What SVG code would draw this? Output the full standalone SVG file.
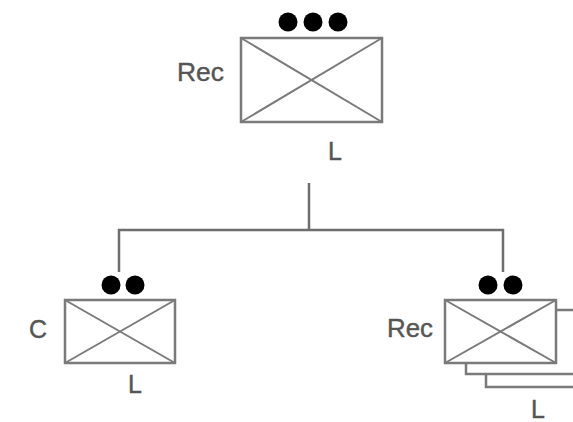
<svg xmlns="http://www.w3.org/2000/svg" width="573" height="422" viewBox="0 0 573 422">
<style>
.box{fill:#fff;stroke:#7a7a7a;stroke-width:2.5}
.x{stroke:#7a7a7a;stroke-width:2}
.dot{fill:#000}
.lbl{font-family:"Liberation Sans",Arial,sans-serif;font-size:25px;fill:#555;stroke:#555;stroke-width:0.4}
.wire{fill:none;stroke:#6e6e6e;stroke-width:2.5}
</style>
<rect width="573" height="422" fill="#fff"/>
<g id="connectors">
<line class="wire" x1="309" y1="183" x2="309" y2="230"/>
<polyline class="wire" points="119,272 119,230 503,230 503,272"/>
</g>
<g id="top">
<circle class="dot" cx="288" cy="22" r="9.5"/>
<circle class="dot" cx="313" cy="22" r="9.5"/>
<circle class="dot" cx="338" cy="22" r="9.5"/>
<rect class="box" x="241" y="38" width="141" height="84"/>
<line class="x" x1="241" y1="38" x2="382" y2="122"/>
<line class="x" x1="382" y1="38" x2="241" y2="122"/>
<text class="lbl" x="177" y="81" textLength="47" lengthAdjust="spacingAndGlyphs">Rec</text>
<text class="lbl" x="328" y="160">L</text>
</g>
<g id="left">
<circle class="dot" cx="111" cy="285" r="9.5"/>
<circle class="dot" cx="135" cy="285" r="9.5"/>
<rect class="box" x="65" y="300" width="110" height="63"/>
<line class="x" x1="65" y1="300" x2="175" y2="363"/>
<line class="x" x1="175" y1="300" x2="65" y2="363"/>
<text class="lbl" x="29" y="338">C</text>
<text class="lbl" x="128" y="393">L</text>
</g>
<g id="right">
<rect class="box" x="486" y="323" width="120" height="64"/>
<rect class="box" x="466" y="310" width="120" height="64"/>
<circle class="dot" cx="488" cy="285" r="9.5"/>
<circle class="dot" cx="513" cy="285" r="9.5"/>
<rect class="box" x="445" y="300" width="111" height="63"/>
<line class="x" x1="445" y1="300" x2="556" y2="363"/>
<line class="x" x1="556" y1="300" x2="445" y2="363"/>
<text class="lbl" x="387" y="337" textLength="46" lengthAdjust="spacingAndGlyphs">Rec</text>
<text class="lbl" x="531" y="418">L</text>
</g>
</svg>
